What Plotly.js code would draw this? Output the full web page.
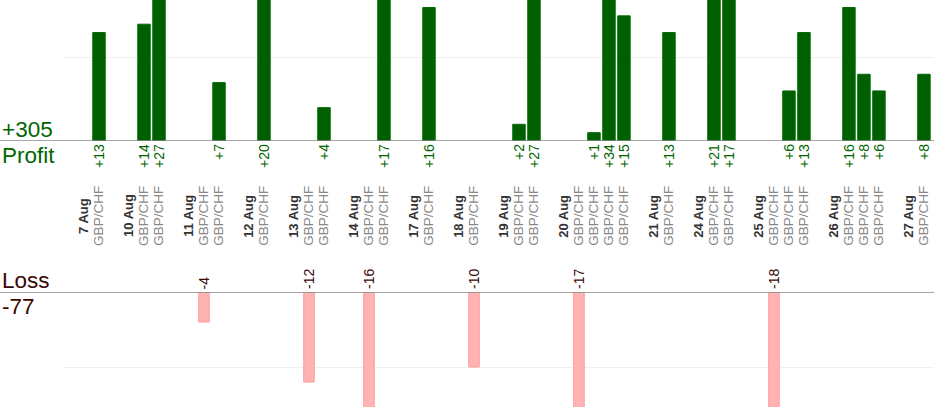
<!DOCTYPE html>
<html>
<head>
<meta charset="utf-8">
<script src="https://cdn.plot.ly/plotly-3.0.1.min.js"></script>
<style>
  html, body { margin: 0; padding: 0; background: #fff; }
  #plot { width: 934px; height: 420px; }
</style>
</head>
<body>
<div id="plot"></div>
<script>
// Trading days shown on the axis
var days = ['7 Aug', '10 Aug', '11 Aug', '12 Aug', '13 Aug', '14 Aug', '17 Aug', '18 Aug',
  '19 Aug', '20 Aug', '21 Aug', '24 Aug', '25 Aug', '26 Aug', '27 Aug'];

// One entry per trade: which day it belongs to, the pair and the result (pips)
var tradeDay = [0, 1, 1, 2, 2, 3, 4, 4, 5, 5, 6, 7, 8, 8, 9, 9, 9, 9, 10, 11, 11, 12, 12, 12, 13, 13, 13, 14];
var tradePair = ['GBP/CHF', 'GBP/CHF', 'GBP/CHF', 'GBP/CHF', 'GBP/CHF', 'GBP/CHF', 'GBP/CHF',
  'GBP/CHF', 'GBP/CHF', 'GBP/CHF', 'GBP/CHF', 'GBP/CHF', 'GBP/CHF', 'GBP/CHF', 'GBP/CHF',
  'GBP/CHF', 'GBP/CHF', 'GBP/CHF', 'GBP/CHF', 'GBP/CHF', 'GBP/CHF', 'GBP/CHF', 'GBP/CHF',
  'GBP/CHF', 'GBP/CHF', 'GBP/CHF', 'GBP/CHF', 'GBP/CHF'];
var tradePnl = [13, 14, 27, -4, 7, 20, -12, 4, -16, 17, 16, -10, 2, 27, -17, 1, 34, 15, 13,
  21, 17, -18, 6, 13, 16, 8, 6, 8];

var font = 'Liberation Sans, Arial, sans-serif';
var green = '#006600';
var maroon = '#3a0505';

// lay out slots: day label, its trades, then an empty gap slot
var daySlot = [];
var tradeSlot = [];
var s = 0;
days.forEach(function (d, i) {
  daySlot.push(s);
  s++;
  tradeDay.forEach(function (td, j) {
    if (td === i) { tradeSlot[j] = s; s++; }
  });
  s++;
});

var profitX = [], profitY = [], lossX = [], lossY = [];
tradePnl.forEach(function (v, j) {
  if (v >= 0) { profitX.push(tradeSlot[j]); profitY.push(v); }
  else { lossX.push(tradeSlot[j]); lossY.push(v); }
});

var totalProfit = profitY.reduce(function (a, b) { return a + b; }, 0);
var totalLoss = lossY.reduce(function (a, b) { return a + b; }, 0);

var profitTrace = {
  x: profitX, y: profitY, type: 'bar', width: 0.83,
  marker: { color: '#005f00', line: { color: '#006c00', width: 1 } },
  hoverinfo: 'skip', xaxis: 'x', yaxis: 'y'
};
var lossTrace = {
  x: lossX, y: lossY, type: 'bar', width: 0.7,
  marker: { color: '#ffb3b3', line: { color: '#ff9a9a', width: 1 } },
  hoverinfo: 'skip', xaxis: 'x', yaxis: 'y2'
};

var annotations = [];
profitX.forEach(function (x, i) {
  annotations.push({
    x: x, y: 0, xref: 'x', yref: 'y', text: '+' + profitY[i], textangle: -90,
    yanchor: 'top', xanchor: 'center', yshift: -1, showarrow: false,
    font: { family: font, size: 14, color: green }
  });
});
lossX.forEach(function (x, i) {
  annotations.push({
    x: x, y: 0, xref: 'x', yref: 'y2', text: String(lossY[i]), textangle: -90,
    yanchor: 'bottom', xanchor: 'center', yshift: 1, showarrow: false,
    font: { family: font, size: 14, color: maroon }
  });
});
days.forEach(function (d, i) {
  annotations.push({
    x: daySlot[i], y: 0.486, xref: 'x', yref: 'paper', text: '<b>' + d + '</b>',
    textangle: -90, showarrow: false, font: { family: font, size: 13, color: '#333' }
  });
});
tradePair.forEach(function (p, j) {
  annotations.push({
    x: tradeSlot[j], y: 0.486, xref: 'x', yref: 'paper', text: p,
    textangle: -90, showarrow: false, font: { family: font, size: 13.5, color: '#888' }
  });
});

// totals on the left
annotations.push(
  { x: 0, y: 0, xref: 'paper', yref: 'y', text: '+' + totalProfit, xanchor: 'left', yanchor: 'bottom',
    yshift: -3, showarrow: false, font: { family: font, size: 22.5, color: green } },
  { x: 0, y: 0, xref: 'paper', yref: 'y', text: 'Profit', xanchor: 'left', yanchor: 'top',
    showarrow: false, font: { family: font, size: 22.5, color: green } },
  { x: 0, y: 0, xref: 'paper', yref: 'y2', text: 'Loss', xanchor: 'left', yanchor: 'bottom',
    yshift: -3, showarrow: false, font: { family: font, size: 22.5, color: maroon } },
  { x: 0, y: 0, xref: 'paper', yref: 'y2', text: String(totalLoss), xanchor: 'left', yanchor: 'top',
    showarrow: false, font: { family: font, size: 22.5, color: maroon } }
);

var layout = {
  width: 934, height: 420,
  margin: { l: 0, r: 0, t: 0, b: 0 },
  paper_bgcolor: '#fff', plot_bgcolor: 'rgba(0,0,0,0)',
  showlegend: false, bargap: 0,
  xaxis: {
    domain: [63 / 934, 1], range: [-1.4, 56.67],
    showgrid: false, zeroline: false, showticklabels: false, ticks: '', fixedrange: true
  },
  yaxis: {
    domain: [1 - 141 / 420, 1], range: [0, 16.9],
    tickvals: [10], gridcolor: '#efefef', gridwidth: 1,
    showticklabels: false, zeroline: false, ticks: '', fixedrange: true
  },
  yaxis2: {
    domain: [1 - 407 / 420, 1 - 292 / 420], range: [-15.33, 0],
    tickvals: [-10], gridcolor: '#efefef', gridwidth: 1,
    showticklabels: false, zeroline: false, ticks: '', fixedrange: true
  },
  shapes: [
    { type: 'line', xref: 'paper', yref: 'y', x0: 0, x1: 1, y0: 0, y1: 0,
      line: { color: '#888', width: 1.5 } },
    { type: 'line', xref: 'paper', yref: 'y2', x0: 0, x1: 1, y0: 0, y1: 0,
      line: { color: '#888', width: 1.5 } }
  ],
  annotations: annotations
};

Plotly.newPlot('plot', [profitTrace, lossTrace], layout, { displayModeBar: false, staticPlot: true });
</script>
</body>
</html>
